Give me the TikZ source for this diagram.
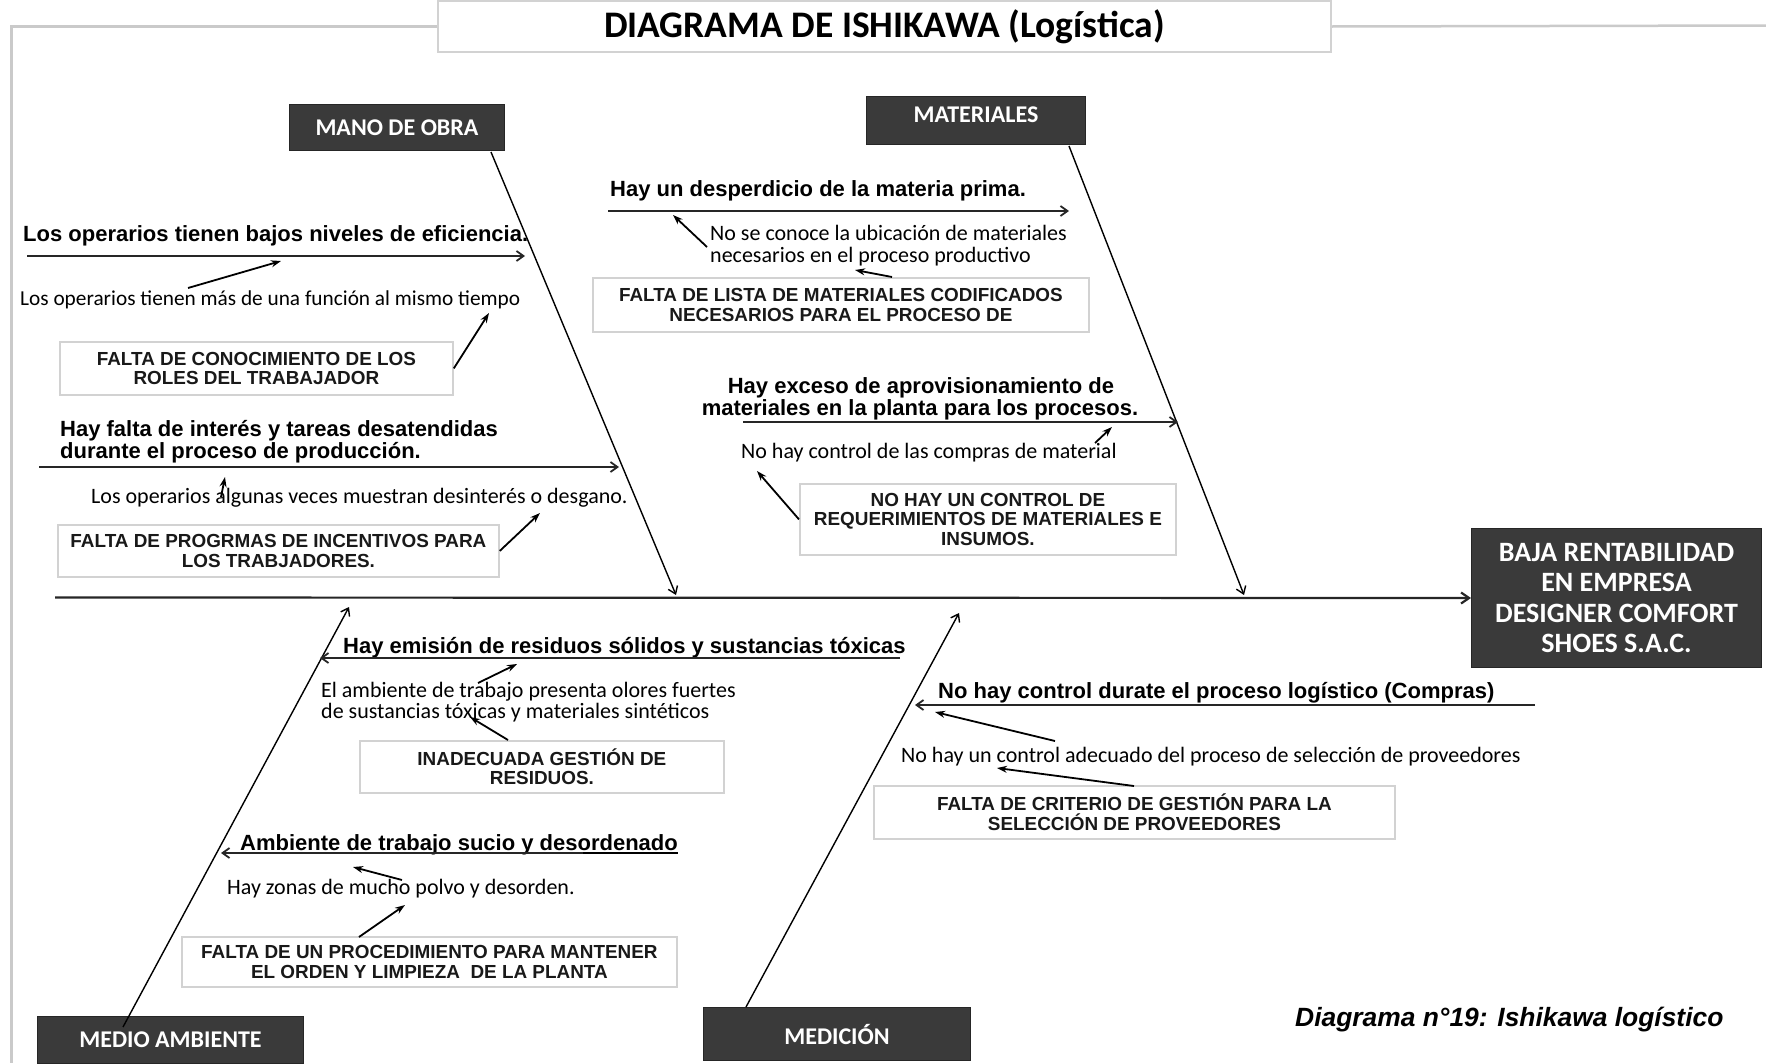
\documentclass[tikz,border=0pt]{standalone}
\usepackage{fontspec}
\setmainfont{Carlito}
\newfontfamily\arialf{Liberation Sans}
\usetikzlibrary{arrows.meta}
\definecolor{boxdark}{HTML}{3A3A3A}
\definecolor{framegray}{HTML}{CACACA}
\definecolor{boxline}{HTML}{D2D2D2}
\begin{document}
\begin{tikzpicture}[x=1pt,y=-1pt,
  catbox/.style={draw=black!85, line width=1pt, fill=boxdark, text=white, font=\fontsize{24}{26}\selectfont\bfseries, anchor=north west, inner sep=0pt, align=center},
  causebox/.style={draw=boxline, line width=1.8pt, fill=white, font=\arialf\fontsize{18.9}{19.5}\selectfont\bfseries, align=center, anchor=north west, inner sep=0pt, text=black!90},
  lbl/.style={font=\arialf\fontsize{22}{24}\selectfont\bfseries, anchor=base west, inner sep=0pt},
  sub/.style={font=\fontsize{22}{24}\selectfont, anchor=base west, inner sep=0pt},
  bone/.style={line width=1.4pt, -{Straight Barb[length=7pt,width=10pt]}},
  rib/.style={line width=1.8pt, black!85, -{Straight Barb[length=7pt,width=10pt]}},
  tick/.style={line width=1.8pt, -{Stealth[length=10pt,width=7pt]}},
]
\useasboundingbox (0,0) rectangle (1766,1063);
% frame and title
\node[draw=boxline, line width=2pt, minimum width=893pt, minimum height=51pt, anchor=north west, inner sep=0pt, font=\fontsize{37.5}{40}\selectfont\bfseries] (title) at (437,0) {DIAGRAMA DE ISHIKAWA (Logística)};
\coordinate (fbl) at (11.5,1063);
\coordinate (fr) at (1766,25.5);
\draw[framegray, line width=2.5pt] (title.west) -| (fbl);
\draw[framegray, line width=2.5pt] (title.east) -- (fr);

% effect and spine
\node[catbox, minimum width=290pt, minimum height=139pt, font=\fontsize{28}{30.5}\selectfont\bfseries] (eff) at (1471,528) {BAJA RENTABILIDAD\\EN EMPRESA\\DESIGNER COMFORT\\SHOES S.A.C.};
\coordinate (spL) at (55,597.5);
\draw[line width=2.2pt, black!85, -{Straight Barb[length=8pt,width=11pt]}] (spL) -- (eff.west);

% category boxes
\node[catbox, minimum width=215pt, minimum height=46pt] (mo) at (289,104) {MANO DE OBRA};
\node[catbox, minimum width=219pt, minimum height=48pt, text depth=12pt] (mat) at (866,96) {MATERIALES};
\node[catbox, minimum width=266pt, minimum height=47pt] (ma) at (37,1016) {MEDIO AMBIENTE};
\node[catbox, minimum width=267pt, minimum height=53pt] (med) at (703,1007) {MEDICIÓN};

% main bones
\coordinate (moS) at (491,152); \coordinate (moE) at (676,595);
\coordinate (matS) at (1069,146); \coordinate (matE) at (1244,595);
\coordinate (maS) at (123,1027); \coordinate (maE) at (349,607);
\coordinate (medS) at (746,1007); \coordinate (medE) at (959,613);
\draw[bone] (moS) -- (moE);
\draw[bone] (matS) -- (matE);
\draw[bone] (maS) -- (maE);
\draw[bone] (medS) -- (medE);

% ---- MANO DE OBRA
\node[lbl] (l1) at (23,241) {Los operarios tienen bajos niveles de eficiencia.};
\coordinate (r1s) at (27,256); \coordinate (r1e) at (525,256);
\draw[rib] (r1s) -- (r1e);
\node[sub, font=\fontsize{21.3}{24}\selectfont] (s1) at (20,305) {Los operarios tienen más de una función al mismo tiempo};
\coordinate (t1s) at (188,288); \coordinate (t1e) at (281,261);
\draw[tick] (t1s) -- (t1e);
\node[causebox, minimum width=393pt, minimum height=53pt] (b1) at (59,341) {FALTA DE CONOCIMIENTO DE LOS\\ROLES DEL TRABAJADOR};
\coordinate (t2e) at (489,313);
\draw[tick] (b1.east) -- (t2e);

\node[lbl] (l2a) at (60,436) {Hay falta de interés y tareas desatendidas};
\node[lbl] (l2b) at (60,458) {durante el proceso de producción.};
\coordinate (r2s) at (39,467); \coordinate (r2e) at (619,467);
\draw[rib] (r2s) -- (r2e);
\node[sub] (s2) at (91,503) {Los operarios algunas veces muestran desinterés o desgano.};
\coordinate (t3s) at (221,497); \coordinate (t3e) at (225,477);
\draw[tick] (t3s) -- (t3e);
\node[causebox, minimum width=441pt, minimum height=52pt] (b2) at (57,524) {FALTA DE PROGRMAS DE INCENTIVOS PARA\\LOS TRABJADORES.};
\coordinate (t4e) at (540,513);
\draw[tick] (b2.east) -- (t4e);

% ---- MATERIALES
\node[lbl] (l3) at (610,196) {Hay un desperdicio de la materia prima.};
\coordinate (r3s) at (608,211); \coordinate (r3e) at (1069,211);
\draw[rib] (r3s) -- (r3e);
\node[sub] (s3a) at (710,240) {No se conoce la ubicación de materiales};
\node[sub] (s3b) at (710,262) {necesarios en el proceso productivo};
\coordinate (t5s) at (707,247); \coordinate (t5e) at (673,215);
\draw[tick] (t5s) -- (t5e);
\node[causebox, minimum width=496pt, minimum height=54pt] (b3) at (592,277) {FALTA DE LISTA DE MATERIALES CODIFICADOS\\NECESARIOS PARA EL PROCESO DE};
\coordinate (t6s) at (892,277); \coordinate (t6e) at (855,270);
\draw[tick] (t6s) -- (t6e);

\node[lbl, anchor=base] (l4a) at (921,393) {Hay exceso de aprovisionamiento de};
\node[lbl, anchor=base] (l4b) at (920,415) {materiales en la planta para los procesos.};
\coordinate (r4s) at (743,422); \coordinate (r4e) at (1178,422);
\draw[rib] (r4s) -- (r4e);
\node[sub] (s4) at (741,458) {No hay control de las compras de material};
\coordinate (t7s) at (1095,443); \coordinate (t7e) at (1112,427);
\draw[tick] (t7s) -- (t7e);
\node[causebox, minimum width=376pt, minimum height=71pt] (b4) at (799,483) {NO HAY UN CONTROL DE\\REQUERIMIENTOS DE MATERIALES E\\INSUMOS.};
\coordinate (t8e) at (757,471);
\draw[tick] (b4.west) -- (t8e);

% ---- MEDIO AMBIENTE
\node[lbl] (l5) at (343,653) {Hay emisión de residuos sólidos y sustancias tóxicas};
\coordinate (r5s) at (900,658); \coordinate (r5e) at (320,658);
\draw[rib] (r5s) -- (r5e);
\node[sub] (s5a) at (321,697) {El ambiente de trabajo presenta olores fuertes};
\node[sub] (s5b) at (321,718) {de sustancias tóxicas y materiales sintéticos};
\coordinate (t9s) at (478,683); \coordinate (t9e) at (517,664);
\draw[tick] (t9s) -- (t9e);
\node[causebox, minimum width=364pt, minimum height=52pt] (b5) at (359,740) {INADECUADA GESTIÓN DE\\RESIDUOS.};
\coordinate (t10s) at (508,740); \coordinate (t10e) at (470,717);
\draw[tick] (t10s) -- (t10e);

\node[lbl] (l6) at (240,850) {Ambiente de trabajo sucio y desordenado};
\draw[line width=1.2pt] ([yshift=-3pt]l6.base west) -- ([yshift=-3pt]l6.base east);
\coordinate (r6s) at (583,853); \coordinate (r6e) at (221,853);
\draw[rib] (r6s) -- (r6e);
\node[sub] (s6) at (227,894) {Hay zonas de mucho polvo y desorden.};
\coordinate (t11s) at (402,880); \coordinate (t11e) at (353,867);
\draw[tick] (t11s) -- (t11e);
\node[causebox, minimum width=495pt, minimum height=50pt] (b6) at (181,936) {FALTA DE UN PROCEDIMIENTO PARA MANTENER\\EL ORDEN Y LIMPIEZA\ \ DE LA PLANTA};
\coordinate (t12s) at (359,937); \coordinate (t12e) at (405,905);
\draw[tick] (t12s) -- (t12e);

% ---- MEDICION
\node[lbl] (l7) at (938,698) {No hay control durate el proceso logístico (Compras)};
\coordinate (r7s) at (1535,705); \coordinate (r7e) at (915,705);
\draw[rib] (r7s) -- (r7e);
\node[sub] (s7) at (901,762) {No hay un control adecuado del proceso de selección de proveedores};
\coordinate (t13s) at (1055,741); \coordinate (t13e) at (935,712);
\draw[tick] (t13s) -- (t13e);
\node[causebox, minimum width=521pt, minimum height=53pt] (b7) at (873,785) {FALTA DE CRITERIO DE GESTIÓN PARA LA\\SELECCIÓN DE PROVEEDORES};
\coordinate (t14s) at (1134,786); \coordinate (t14e) at (997,768);
\draw[tick] (t14s) -- (t14e);

% caption
\node[font=\arialf\bfseries\itshape\fontsize{26.4}{28}\selectfont, anchor=base west, inner sep=0pt] (cap) at (1295,1026) {Diagrama n°19: Ishikawa logístico};
\end{tikzpicture}
\end{document}
